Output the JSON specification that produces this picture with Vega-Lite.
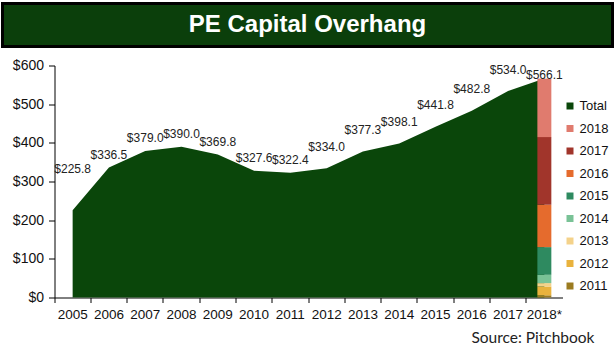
{
  "$schema": "https://vega.github.io/schema/vega-lite/v6.json",
  "background": "white",
  "padding": {"left": 0.5, "top": 1.5, "right": 4, "bottom": 2},
  "spacing": 10,
  "datasets": {
    "totals": [
      {"year": "2005", "series": "Total", "value": 225.8},
      {"year": "2006", "series": "Total", "value": 336.5},
      {"year": "2007", "series": "Total", "value": 379.0},
      {"year": "2008", "series": "Total", "value": 390.0},
      {"year": "2009", "series": "Total", "value": 369.8},
      {"year": "2010", "series": "Total", "value": 327.6},
      {"year": "2011", "series": "Total", "value": 322.4},
      {"year": "2012", "series": "Total", "value": 334.0},
      {"year": "2013", "series": "Total", "value": 377.3},
      {"year": "2014", "series": "Total", "value": 398.1},
      {"year": "2015", "series": "Total", "value": 441.8},
      {"year": "2016", "series": "Total", "value": 482.8},
      {"year": "2017", "series": "Total", "value": 534.0},
      {"year": "2018*", "series": "Total", "value": 566.1}
    ],
    "vintages": [
      {"year": "2018*", "series": "2011", "value": 5.7},
      {"year": "2018*", "series": "2012", "value": 22.7},
      {"year": "2018*", "series": "2013", "value": 8.8},
      {"year": "2018*", "series": "2014", "value": 21.5},
      {"year": "2018*", "series": "2015", "value": 71.6},
      {"year": "2018*", "series": "2016", "value": 109.4},
      {"year": "2018*", "series": "2017", "value": 175.1},
      {"year": "2018*", "series": "2018", "value": 151.3}
    ],
    "banner": [{"title": "PE Capital Overhang"}]
  },
  "vconcat": [
    {
      "width": 610,
      "height": 43,
      "view": {"fill": "#0b3f0b", "stroke": "black", "strokeWidth": 3},
      "data": {"name": "banner"},
      "mark": {"type": "text", "font": "Liberation Sans", "fontWeight": "bold", "fontSize": 24, "color": "white", "align": "center", "baseline": "middle"},
      "encoding": {"text": {"field": "title"}}
    },
    {
      "width": 562,
      "height": 232,
      "view": {"stroke": null},
      "title": {"text": "Source: Pitchbook", "orient": "bottom", "anchor": "end", "dx": 30, "offset": 10, "font": "Lato", "fontSize": 15.5, "fontWeight": "normal", "color": "#222"},
      "encoding": {
        "x": {
          "field": "year", "type": "ordinal",
          "scale": {"domain": ["2005","2006","2007","2008","2009","2010","2011","2012","2013","2014","2015","2016","2017","2018*"], "range": [52, 560], "paddingInner": 0, "paddingOuter": 0},
          "axis": {"title": null, "labelAngle": 0, "bandPosition": 0, "tickSize": 5, "labelPadding": 5, "labelFont": "Liberation Sans", "labelFontSize": 13.5, "labelColor": "#111", "domainColor": "black", "tickColor": "black", "labelAlign": "center"}
        },
        "y": {
          "field": "value", "type": "quantitative",
          "scale": {"domain": [0, 600], "nice": false},
          "axis": {"title": null, "values": [0,100,200,300,400,500,600], "format": "$,.0f", "grid": false, "offset": -52, "tickSize": 6, "labelPadding": 5, "labelFont": "Liberation Sans", "labelFontSize": 14, "labelColor": "#111", "domainColor": "black", "tickColor": "black"}
        }
      },
      "layer": [
        {
          "data": {"name": "totals"},
          "mark": {"type": "area", "interpolate": "linear"},
          "encoding": {
            "y": {"field": "value", "type": "quantitative", "stack": null},
            "color": {
              "field": "series", "type": "nominal",
              "scale": {
                "domain": ["Total","2018","2017","2016","2015","2014","2013","2012","2011"],
                "range": ["#0a460a","#e07b6e","#a1352b","#e56b2d","#2e8a60","#79c296","#f4d28a","#e9b23d","#9b7b20"]
              },
              "legend": {"title": null, "orient": "none", "legendX": 561, "legendY": 96, "symbolType": "square", "symbolSize": 49, "symbolStrokeWidth": 0, "labelFont": "Liberation Sans", "labelFontSize": 13, "labelColor": "#111", "labelOffset": 3, "rowPadding": 8.5}
            }
          }
        },
        {
          "data": {"name": "vintages"},
          "mark": {"type": "bar", "width": {"band": 0.385}},
          "encoding": {
            "y": {"field": "value", "type": "quantitative", "stack": "zero"},
            "color": {"field": "series", "type": "nominal"},
            "order": {"field": "series", "sort": "ascending"}
          }
        },
        {
          "data": {"name": "totals"},
          "transform": [{"filter": "datum.year == '2005'"}],
          "mark": {"type": "text", "font": "Liberation Sans", "fontSize": 12, "color": "#222", "dy": -41},
          "encoding": {"text": {"field": "value", "type": "quantitative", "format": "$.1f"}}
        },
        {
          "data": {"name": "totals"},
          "transform": [{"filter": "datum.year >= '2006' && datum.year <= '2011'"}],
          "mark": {"type": "text", "font": "Liberation Sans", "fontSize": 12, "color": "#222", "dy": -12.5},
          "encoding": {"text": {"field": "value", "type": "quantitative", "format": "$.1f"}}
        },
        {
          "data": {"name": "totals"},
          "transform": [{"filter": "datum.year >= '2012' && datum.year <= '2017'"}],
          "mark": {"type": "text", "font": "Liberation Sans", "fontSize": 12, "color": "#222", "dy": -21.5},
          "encoding": {"text": {"field": "value", "type": "quantitative", "format": "$.1f"}}
        },
        {
          "data": {"name": "totals"},
          "transform": [{"filter": "datum.year == '2018*'"}],
          "mark": {"type": "text", "font": "Liberation Sans", "fontSize": 12, "color": "#222", "dy": -4},
          "encoding": {"text": {"field": "value", "type": "quantitative", "format": "$.1f"}}
        }
      ]
    }
  ]
}
